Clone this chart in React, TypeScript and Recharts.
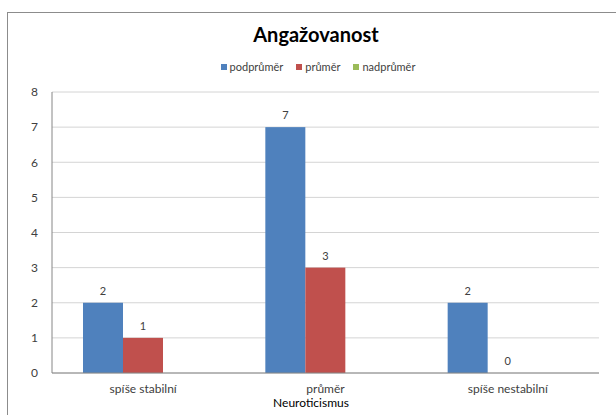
import React from "react";
import { BarChart, Bar, XAxis, YAxis, CartesianGrid } from "recharts";

const categories = ["spíše stabilní", "průměr", "spíše nestabilní"];
const podprumer = [2, 7, 2];
const prumer = [1, 3, 0];
const nadprumer: (number | null)[] = [null, null, null];
const yTicks = [0, 1, 2, 3, 4, 5, 6, 7, 8];

const seriesInfo = [
  { key: "podprumer", name: "podprůměr", color: "#4F81BD" },
  { key: "prumer", name: "průměr", color: "#C0504D" },
  { key: "nadprumer", name: "nadprůměr", color: "#9BBB59" },
];

const data = categories.map((c, i) => ({
  category: c,
  podprumer: podprumer[i],
  prumer: prumer[i],
  nadprumer: nadprumer[i],
}));

const FONT = "Lato, 'Open Sans', sans-serif";

// bar rectangle with its value written above it (zero values included)
const makeShape = (dataKey: string, color: string) => (props: any) => {
  const { x, y, width, height, payload } = props;
  const value = payload ? payload[dataKey] : null;
  if (value === null || value === undefined) return <g />;
  const h = Math.max(0, Number(height) || 0);
  return (
    <g>
      {h > 0 && <rect x={x} y={y} width={width} height={h} fill={color} />}
      <text
        x={Number(x) + Number(width) / 2}
        y={Number(y) - 8}
        textAnchor="middle"
        fill="#404040"
        fontSize={11}
        fontFamily={FONT}
      >
        {value}
      </text>
    </g>
  );
};

export default function App() {
  return (
    <div style={{ position: "absolute", left: 0, top: 0, width: 616, height: 415, overflow: "hidden", background: "#fff" }}>
      <div
        style={{
          position: "absolute",
          left: 7,
          top: 12,
          width: 640,
          height: 440,
          border: "1px solid #8c8c8c",
          boxSizing: "border-box",
        }}
      />
      <div
        style={{
          position: "absolute",
          left: 0,
          top: 22,
          width: 632,
          textAlign: "center",
          fontFamily: FONT,
          fontWeight: 700,
          fontSize: 20,
          lineHeight: "24px",
          color: "#000",
        }}
      >
        Angažovanost
      </div>
      <div
        style={{
          position: "absolute",
          left: 0,
          top: 60,
          width: 636,
          display: "flex",
          justifyContent: "center",
          fontFamily: FONT,
          fontSize: 11,
          lineHeight: "14px",
          color: "#404040",
        }}
      >
        {seriesInfo.map((s, i) => (
          <span key={s.key} style={{ display: "inline-flex", alignItems: "center", marginLeft: i === 0 ? 0 : 13 }}>
            <span style={{ width: 6, height: 6, background: s.color, display: "inline-block", marginRight: 3 }} />
            {s.name}
          </span>
        ))}
      </div>
      <BarChart
        width={616}
        height={415}
        data={data}
        margin={{ top: 92, right: 17, bottom: 0, left: 22 }}
        barCategoryGap="17%"
        barGap={0}
        style={{ position: "absolute", left: 0, top: 0 }}
      >
        <CartesianGrid vertical={false} stroke="#d4d4d4" />
        <XAxis
          dataKey="category"
          height={42}
          stroke="#868686"
          tickLine={false}
          tick={{ fill: "#404040", fontSize: 12, fontFamily: FONT }}
          tickMargin={5}
        />
        <YAxis
          width={30}
          domain={[0, 8]}
          ticks={yTicks}
          stroke="#868686"
          tickLine={false}
          tick={{ fill: "#404040", fontSize: 12, fontFamily: FONT }}
          tickMargin={8}
        />
        {seriesInfo.map((s) => (
          <Bar
            key={s.key}
            dataKey={s.key}
            name={s.name}
            fill={s.color}
            isAnimationActive={false}
            shape={makeShape(s.key, s.color)}
          />
        ))}
      </BarChart>
      <div
        style={{
          position: "absolute",
          left: 0,
          top: 395,
          width: 622,
          textAlign: "center",
          fontFamily: FONT,
          fontSize: 12,
          lineHeight: "15px",
          color: "#000",
        }}
      >
        Neuroticismus
      </div>
    </div>
  );
}
